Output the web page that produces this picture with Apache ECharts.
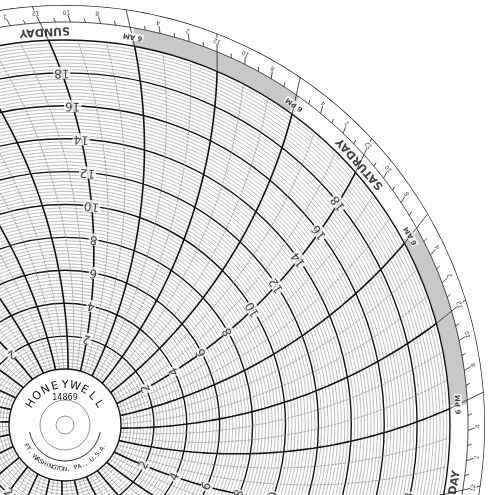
<!DOCTYPE html>
<html><head><meta charset="utf-8">
<script src="https://cdn.jsdelivr.net/npm/echarts@6/dist/echarts.min.js"></script>
<style>html,body{margin:0;background:#fff}#main{width:494px;height:495px}</style>
</head><body><div id="main"></div>
<script>
var chartDom = document.getElementById('main');
var myChart = echarts.init(chartDom);

// chart data
var dayNames = ['SATURDAY', 'SUNDAY', 'MONDAY', 'TUESDAY', 'WEDNESDAY', 'THURSDAY', 'FRIDAY'];
var valueLabels = [2, 4, 6, 8, 10, 12, 14, 16, 18];
var hourOfDay = [0, 2, 4, 8, 10, 12, 14, 16, 20, 22];
var hourText = ['12', '2', '4', '8', '10', '12', '2', '4', '8', '10'];
var sixHours = [6, 18];
var sixText = ['6 AM', '6 PM'];

// geometry of the paper
var CX = 65, CY = 425, R0 = 56, RG = 385, RM = 403, RO = 420, ARM = 525, BASE = 19.5;
var unit = (RG - R0) / 20;
function pv(p) { return (p - R0) / unit; }
function phi(p) { return Math.asin(p / (2 * ARM)) * 180 / Math.PI; }
// t = hours from saturday noon
function ang(t, p) { return BASE + t * 360 / 168 + phi(p); }
function pix(v) { return R0 + v * unit; }

// time arcs
var darkArcs = [], lightArcs = [];
for (var t = -84; t < 84; t += 2) {
    var target = (t % 6 === 0) ? darkArcs : lightArcs;
    for (var v = 0; v <= 20.001; v += 0.25) target.push([v, ang(t, pix(v))]);
    target.push(['-', '-']);
}

// value labels along noon lines
var numLabels = [];
for (var d = 0; d < 7; d++) {
    valueLabels.forEach(function (n) {
        var a = ang(d * 24, pix(n));
        numLabels.push({ value: [n, a], name: String(n), rot: a + 90 });
    });
}

// outer band texts
var dayLabels = [], hourLabels = [], sixLabels = [];
for (var d = 0; d < 7; d++) {
    var a = ang(d * 24, 394);
    dayLabels.push({ value: [pv(394), a], name: dayNames[d], rot: a + 90 });
    hourOfDay.forEach(function (h, i) {
        var a2 = ang(d * 24 + h - 12, 413);
        hourLabels.push({ value: [pv(413), a2], name: hourText[i], rot: a2 + 90 });
    });
    sixHours.forEach(function (h, i) {
        var a3 = ang(d * 24 + h - 12, 394);
        sixLabels.push({ value: [pv(394), a3], name: sixText[i], rot: a3 + 90 });
    });
}

// hour ticks in outer band
var ticks = [];
for (var h = -84; h < 84; h++) {
    var len = h % 6 === 0 ? RO : (h % 2 === 0 ? RM + 7 : RM + 4);
    var from = h % 6 === 0 ? RG : RM;
    ticks.push([pv(from), ang(h, from)], [pv(len), ang(h, len)], ['-', '-']);
}
function ring(p) {
    var out = [];
    for (var a = 0; a <= 360; a += 1) out.push([pv(p), a]);
    return out;
}

// night shading
var graphics = [];
for (var d = -1; d < 7; d++) {
    var a1 = ang(d * 24 + 6, 394), a2 = ang(d * 24 + 18, 394);
    graphics.push({
        type: 'sector', z: -1,
        shape: { cx: CX, cy: CY, r0: RG, r: RM, startAngle: -a2 * Math.PI / 180, endAngle: -a1 * Math.PI / 180 },
        style: { fill: '#c8c8c8' }
    });
}
// centre label
graphics.push({ type: 'circle', z: 100, shape: { cx: CX, cy: CY, r: R0 - 2 }, style: { fill: '#fff', stroke: '#fff' } });
graphics.push({ type: 'circle', z: 101, shape: { cx: CX, cy: CY, r: 25 }, style: { fill: 'none', stroke: '#777', lineWidth: 0.8 } });
graphics.push({ type: 'circle', z: 101, shape: { cx: CX, cy: CY, r: 9 }, style: { fill: 'none', stroke: '#777', lineWidth: 0.8 } });
graphics.push({ type: 'arc', z: 101, shape: { cx: CX, cy: CY, r: 36, startAngle: 0.2, endAngle: Math.PI - 0.2 }, style: { fill: 'none', stroke: '#333', lineWidth: 1 } });
graphics.push({ type: 'text', z: 101, x: CX, y: CY - 27, style: { text: '14869', fontSize: 8, fontFamily: 'DejaVu Sans', fill: '#222', align: 'center', verticalAlign: 'middle' } });
function arcText(str, r, a0, a1, top, size, bold) {
    var n = str.length;
    for (var i = 0; i < n; i++) {
        var a = (a0 + (a1 - a0) * (n === 1 ? 0.5 : i / (n - 1))) * Math.PI / 180;
        graphics.push({
            type: 'text', z: 101,
            x: CX + r * Math.cos(a), y: CY - r * Math.sin(a),
            rotation: top ? a - Math.PI / 2 : a + Math.PI / 2,
            style: { text: str[i], fontSize: size, fontWeight: bold ? 'bold' : 'normal', fontFamily: 'DejaVu Sans', fill: '#111', align: 'center', verticalAlign: 'middle' }
        });
    }
}
arcText('HONEYWELL', 40, 148, 32, true, 11, false);
arcText('FT. WASHINGTON, PA., U.S.A.', 44, 208, 332, false, 6, false);

function textSeries(idx, data, size, bg, weight) {
    return {
        type: 'scatter', coordinateSystem: 'polar', polarIndex: idx, symbolSize: 0, silent: true, z: 5,
        data: data,
        label: {
            show: true, position: 'inside', fontSize: size, color: '#111', fontWeight: weight || 'normal',
            fontFamily: 'DejaVu Sans', backgroundColor: bg, padding: [0, 1],
            formatter: function (p) { return p.name; },
            rotate: 0
        }
    };
}
function withRot(data) {
    return data.map(function (x) { return { value: x.value, name: x.name, label: { rotate: ((x.rot % 360) + 540) % 360 - 180 } }; });
}

var hidden = { show: false };
option = {
    backgroundColor: '#fff',
    animation: false,
    polar: [
        { center: [CX, CY], radius: [R0, RG] },
        { center: [CX, CY], radius: [R0, RO] }
    ],
    angleAxis: [
        { polarIndex: 0, type: 'value', min: 0, max: 360, startAngle: 0, clockwise: false, axisLine: hidden, axisTick: hidden, axisLabel: hidden, splitLine: hidden },
        { polarIndex: 1, type: 'value', min: 0, max: 360, startAngle: 0, clockwise: false, axisLine: hidden, axisTick: hidden, axisLabel: hidden, splitLine: hidden }
    ],
    radiusAxis: [
        {
            polarIndex: 0, type: 'value', min: 0, max: 20, interval: 2,
            axisLine: hidden, axisTick: hidden, axisLabel: hidden,
            splitLine: { show: true, lineStyle: { color: '#111', width: 1.4 } },
            minorTick: { show: false, splitNumber: 10 },
            minorSplitLine: { show: true, lineStyle: { color: '#888', width: 0.55 } }
        },
        { polarIndex: 1, type: 'value', min: 0, max: pv(RO), axisLine: hidden, axisTick: hidden, axisLabel: hidden, splitLine: hidden }
    ],
    graphic: graphics,
    series: [
        { type: 'line', coordinateSystem: 'polar', polarIndex: 0, data: lightArcs, showSymbol: false, silent: true, lineStyle: { color: '#8a8a8a', width: 0.7, type: [3, 1] } },
        { type: 'line', coordinateSystem: 'polar', polarIndex: 0, data: darkArcs, showSymbol: false, silent: true, lineStyle: { color: '#111', width: 1.6 } },
        { type: 'line', coordinateSystem: 'polar', polarIndex: 1, data: ticks, showSymbol: false, silent: true, lineStyle: { color: '#222', width: 0.8 } },
        { type: 'line', coordinateSystem: 'polar', polarIndex: 1, data: ring(RM), showSymbol: false, silent: true, lineStyle: { color: '#222', width: 0.8 } },
        { type: 'line', coordinateSystem: 'polar', polarIndex: 1, data: ring(RO), showSymbol: false, silent: true, lineStyle: { color: '#111', width: 1.4 } },
        textSeries(0, withRot(numLabels), 12, '#fff'),
        textSeries(1, withRot(dayLabels), 11, null, 'bold'),
        textSeries(1, withRot(hourLabels), 6, '#fff'),
        textSeries(1, withRot(sixLabels), 7, '#fff', 'bold')
    ]
};

option && myChart.setOption(option);
</script>
</body></html>
